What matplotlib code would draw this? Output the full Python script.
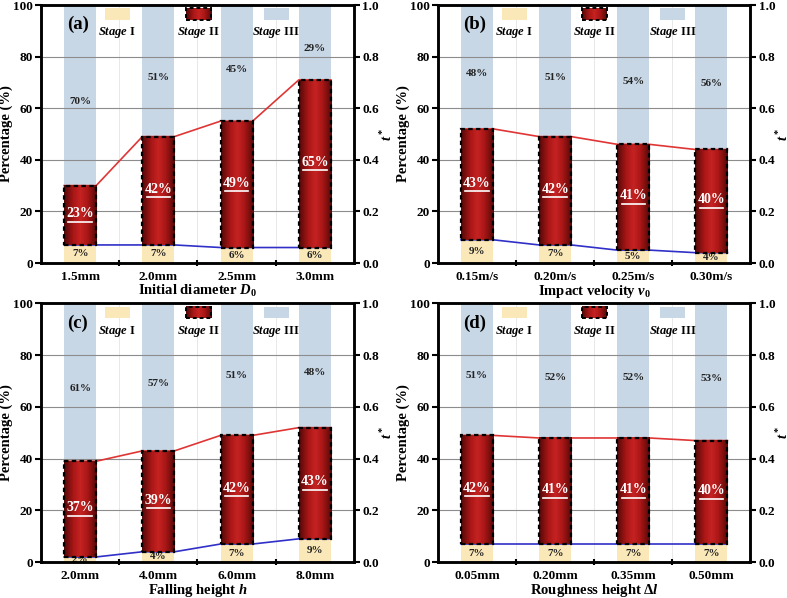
import matplotlib
matplotlib.use('Agg')
import matplotlib.pyplot as plt
import numpy as np
from matplotlib.patches import Rectangle
from matplotlib.colors import LinearSegmentedColormap

plt.rcParams['font.family'] = ['Liberation Serif', 'DejaVu Serif']
plt.rcParams['font.weight'] = 'bold'
plt.rcParams['axes.labelweight'] = 'bold'
plt.rcParams['mathtext.fontset'] = 'custom'
plt.rcParams['mathtext.rm'] = 'Liberation Serif:bold'
plt.rcParams['mathtext.bf'] = 'Liberation Serif:bold'
plt.rcParams['mathtext.it'] = 'Liberation Serif:bold:italic'

# data (percent of each stage)
cats_a = ['1.5mm', '2.0mm', '2.5mm', '3.0mm']
s1_a = [7, 7, 6, 6]
s2_a = [23, 42, 49, 65]
s3_a = [70, 51, 45, 29]

cats_b = ['0.15m/s', '0.20m/s', '0.25m/s', '0.30m/s']
s1_b = [9, 7, 5, 4]
s2_b = [43, 42, 41, 40]
s3_b = [48, 51, 54, 56]

cats_c = ['2.0mm', '4.0mm', '6.0mm', '8.0mm']
s1_c = [2, 4, 7, 9]
s2_c = [37, 39, 42, 43]
s3_c = [61, 57, 51, 48]

cats_d = ['0.05mm', '0.20mm', '0.35mm', '0.50mm']
s1_d = [7, 7, 7, 7]
s2_d = [42, 41, 41, 40]
s3_d = [51, 52, 52, 53]

xlabels = ['Initial diameter $\\mathit{D}_0$', 'Impact velocity $\\mathit{v}_0$',
           'Falling height $\\mathit{h}$', 'Roughness height $\\mathit{\u0394l}$']
panel_tags = ['(a)', '(b)', '(c)', '(d)']

c_yellow = '#fbe8b8'
c_blue = '#c8d7e6'
red_cmap = LinearSegmentedColormap.from_list(
    'redbar', [(0, '#520909'), (0.28, '#a81616'), (0.5, '#c62222'), (0.72, '#a81616'), (1, '#520909')])
grad = np.linspace(0, 1, 256).reshape(1, -1)
w = 0.41


def red_bar(ax, x0, y0, width, height):
    ax.imshow(grad, cmap=red_cmap, aspect='auto', extent=[x0, x0 + width, y0, y0 + height],
              interpolation='bilinear', zorder=3)
    ax.add_patch(Rectangle((x0, y0), width, height, fill=False, ec='black', lw=1.6,
                           ls=(0, (2, 1.5)), zorder=4))


def draw_panel(ax, cats, s1, s2, s3, xlabel, tag):
    x = np.arange(len(cats))
    s1 = np.array(s1, float)
    s2 = np.array(s2, float)
    s3 = np.array(s3, float)
    top1 = s1
    top2 = s1 + s2
    ax.bar(x, s1, w, color=c_yellow, zorder=1)
    ax.bar(x, s3, w, bottom=top2, color=c_blue, zorder=1)
    for i in range(len(cats)):
        red_bar(ax, x[i] - w / 2, top1[i], w, s2[i])
        ax.text(x[i], top1[i] / 2, f'{int(s1[i])}%', ha='center', va='center', fontsize=8,
                color='#222222', zorder=2)
        ymid = top1[i] + s2[i] / 2
        ax.text(x[i], ymid + 0.5, f'{int(s2[i])}%', ha='center', va='center', fontsize=10,
                color='white', zorder=5)
        # underline
        ax.plot([x[i] - 0.15, x[i] + 0.15], [ymid - 2.6, ymid - 2.6], color='white', lw=1.2, zorder=5)
        ax.text(x[i], top2[i] + s3[i] / 2 - 2.5, f'{int(s3[i])}%', ha='center', va='center',
                fontsize=8, color='#222222', zorder=2)

    # connecting lines between bars
    lx = np.ravel(np.column_stack([x - w / 2, x + w / 2]))
    ax.plot(lx, np.repeat(top2, 2), color='#e03535', lw=1.2, zorder=2)
    ax.plot(lx, np.repeat(top1, 2), color='#3030c8', lw=1.2, zorder=2)

    for yv in [20, 40, 60, 80]:
        ax.axhline(yv, color='#8c8c8c', lw=0.8, zorder=1.5)
    for xv in [0.5, 1.5, 2.5]:
        ax.axvline(xv, color='#e4e4e4', lw=0.6, zorder=0.5)

    ax.set_xlim(-0.5, len(cats) - 0.5)
    ax.set_ylim(0, 100)
    ax.set_yticks([0, 20, 40, 60, 80, 100])
    ax.set_xticks([0.5, 1.5, 2.5])
    ax.set_xticklabels([])
    ax.set_xticks(x, minor=True)
    ax.set_xticklabels(cats, minor=True, fontsize=9.5)
    ax.tick_params(axis='x', which='minor', length=0, pad=6)
    ax.tick_params(axis='x', which='major', direction='inout', length=5, width=1.5)
    ax.tick_params(axis='y', direction='out', length=4, width=1.5, labelsize=9.5, pad=2)
    ax.set_ylabel('Percentage (%)', fontsize=10.5, labelpad=0)
    ax.set_xlabel(xlabel, fontsize=10.5, labelpad=0)
    for sp in ax.spines.values():
        sp.set_linewidth(1.8)

    ax2 = ax.twinx()
    ax2.set_ylim(0, 1.0)
    ax2.set_yticks([0.0, 0.2, 0.4, 0.6, 0.8, 1.0])
    ax2.set_yticklabels([f'{v:.1f}' for v in [0.0, 0.2, 0.4, 0.6, 0.8, 1.0]])
    ax2.tick_params(axis='y', direction='out', length=4, width=1.5, labelsize=9.5, pad=2)
    ax2.set_ylabel('$\\mathit{t}^*$', fontsize=10.5, labelpad=0)
    for sp in ax2.spines.values():
        sp.set_linewidth(1.8)

    ax.text(0.118, 0.925, tag, transform=ax.transAxes, ha='center', va='center', fontsize=13.5, zorder=6)

    # legend: patch above its label
    leg = [(0.244, 'yellow', '$\\mathit{Stage}$ I'), (0.502, 'red', '$\\mathit{Stage}$ II'),
           (0.752, 'blue', '$\\mathit{Stage}$ III')]
    for cx, kind, lab in leg:
        if kind == 'red':
            ax.imshow(grad, cmap=red_cmap, aspect='auto', interpolation='bilinear',
                      extent=[cx - 0.04, cx + 0.04, 0.942, 0.988],
                      transform=ax.transAxes, zorder=5)
            ax.add_patch(Rectangle((cx - 0.04, 0.942), 0.08, 0.046, transform=ax.transAxes, fill=False,
                                   ec='black', lw=1.4, ls=(0, (2, 1.5)), zorder=6))
        else:
            col = c_yellow if kind == 'yellow' else c_blue
            ax.add_patch(Rectangle((cx - 0.04, 0.942), 0.08, 0.046, transform=ax.transAxes,
                                   fc=col, ec='none', zorder=5))
        ax.text(cx, 0.893, lab, transform=ax.transAxes, ha='center', va='center', fontsize=9, zorder=6)
    ax.set_xlim(-0.5, len(cats) - 0.5)
    ax.set_ylim(0, 100)


fig = plt.figure(figsize=(7.87, 5.98), dpi=100)
axes = [fig.add_axes([0.0521, 0.5602, 0.3977, 0.4314]),
        fig.add_axes([0.5565, 0.5602, 0.3970, 0.4314]),
        fig.add_axes([0.0521, 0.0600, 0.3977, 0.4325]),
        fig.add_axes([0.5565, 0.0600, 0.3970, 0.4325])]

draw_panel(axes[0], cats_a, s1_a, s2_a, s3_a, xlabels[0], panel_tags[0])
draw_panel(axes[1], cats_b, s1_b, s2_b, s3_b, xlabels[1], panel_tags[1])
draw_panel(axes[2], cats_c, s1_c, s2_c, s3_c, xlabels[2], panel_tags[2])
draw_panel(axes[3], cats_d, s1_d, s2_d, s3_d, xlabels[3], panel_tags[3])

fig.savefig('out.png', dpi=100)
